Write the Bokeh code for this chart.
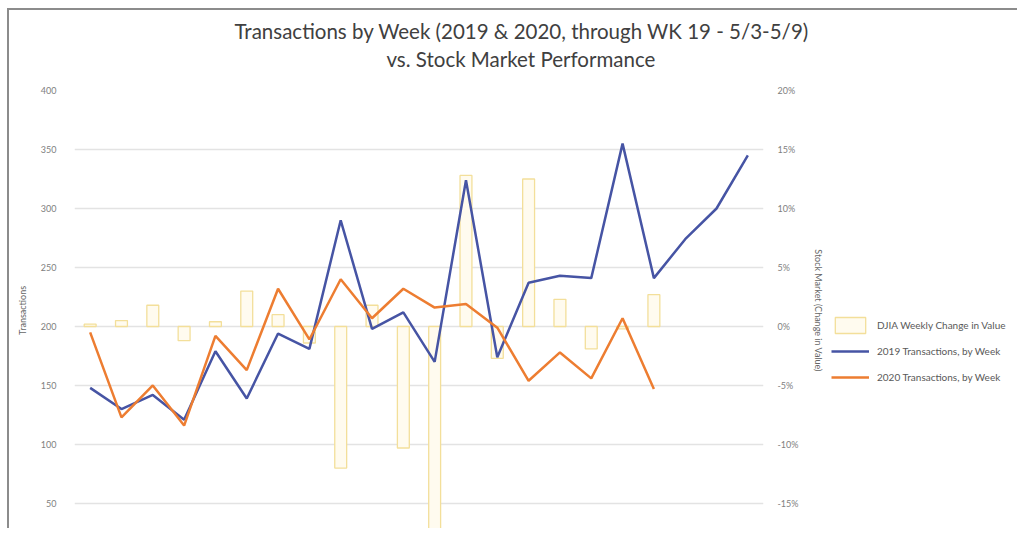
from bokeh.plotting import figure
from bokeh.layouts import row
from bokeh.models import (Range1d, LinearAxis, FixedTicker, PrintfTickFormatter,
                          Legend, LegendItem, Title)
from bokeh.embed import file_html
from bokeh.resources import INLINE

# ---- data ----
weeks_2019 = [1, 2, 3, 4, 5, 6, 7, 8, 9, 10, 11, 12, 13, 14, 15, 16, 17, 18, 19, 20, 21, 22]
tx_2019 = [148, 130, 142, 121, 179, 139, 194, 181, 290, 198, 212, 170, 324, 174,
           237, 243, 241, 355, 241, 274, 300, 345]
weeks_2020 = [1, 2, 3, 4, 5, 6, 7, 8, 9, 10, 11, 12, 13, 14, 15, 16, 17, 18, 19]
tx_2020 = [195, 123, 150, 116, 192, 163, 232, 189, 240, 207, 232, 216, 219, 199,
           154, 178, 156, 207, 147]
djia_pct = [0.2, 0.5, 1.8, -1.2, 0.4, 3.0, 1.0, -1.4, -12.0, 1.8, -10.3, -17.2,
            12.8, -2.7, 12.5, 2.3, -1.9, -0.2, 2.7]

left_ticks = [50, 100, 150, 200, 250, 300, 350, 400]
right_ticks = [-15, -10, -5, 0, 5, 10, 15, 20]

FONT = "Lato"
GREY = "#808080"
BAR_FILL, BAR_LINE = "#fffbef", "#f3df9a"
C2019, C2020 = "#4654a4", "#ED7D31"

p = figure(width=822, height=520, output_backend="svg", toolbar_location=None,
           x_range=Range1d(0.5, 22.5), y_range=Range1d(27.1, 400),
           min_border_left=65, min_border_right=68, min_border_top=80,
           min_border_bottom=0,
           styles={"border-left": "2px solid #8c8c8c", "border-top": "2px solid #8c8c8c",
                   "margin-left": "7px", "margin-top": "8px"})
p.title.text = ""
p.title.visible = False
p.outline_line_color = None
p.background_fill_color = "white"
p.border_fill_color = "white"

p.extra_y_ranges = {"pct": Range1d(-17.29, 20)}

p.xaxis.visible = False
p.xgrid.visible = False
p.ygrid.grid_line_color = "#e3e3e3"
p.ygrid.grid_line_width = 1.5
p.ygrid.ticker = FixedTicker(ticks=left_ticks)

ya = p.yaxis[0]
ya.ticker = FixedTicker(ticks=left_ticks)
ya.axis_line_color = None
ya.major_tick_line_color = None
ya.minor_tick_line_color = None
ya.major_tick_out = 0
ya.major_label_standoff = 18
ya.major_label_text_color = GREY
ya.major_label_text_font = FONT
ya.major_label_text_font_size = "9px"
ya.axis_label = "Transactions"
ya.axis_label_text_font = FONT
ya.axis_label_text_font_size = "9px"
ya.axis_label_text_font_style = "normal"
ya.axis_label_text_color = "#666666"
ya.axis_label_standoff = 10

ra = LinearAxis(y_range_name="pct", ticker=FixedTicker(ticks=right_ticks),
                formatter=PrintfTickFormatter(format="%d%%"))
ra.axis_line_color = None
ra.major_tick_line_color = None
ra.minor_tick_line_color = None
ra.major_tick_out = 0
ra.major_label_standoff = 14
ra.major_label_text_color = GREY
ra.major_label_text_font = FONT
ra.major_label_text_font_size = "9px"
ra.axis_label = "Stock Market (Change in Value)"
ra.axis_label_text_font = FONT
ra.axis_label_text_font_size = "9px"
ra.axis_label_text_font_style = "normal"
ra.axis_label_text_color = "#666666"
ra.axis_label_standoff = 12
p.add_layout(ra, "right")

p.vbar(x=weeks_2020, top=djia_pct, bottom=0, width=0.38, y_range_name="pct",
       fill_color=BAR_FILL, line_color=BAR_LINE, line_width=1.3)
p.line(weeks_2019, tx_2019, line_color=C2019, line_width=2.5)
p.line(weeks_2020, tx_2020, line_color=C2020, line_width=2.5)

t2 = Title(text="vs. Stock Market Performance", align="left", offset=312,
           text_font=FONT, text_font_size="20.5px", text_font_style="normal",
           text_color="#404040", standoff=39)
t1 = Title(text="Transactions by Week (2019 & 2020, through WK 19 - 5/3-5/9)",
           align="left", offset=160, text_font=FONT, text_font_size="20.5px",
           text_font_style="normal", text_color="#404040", standoff=-34)
p.add_layout(t2, "above")
p.add_layout(t1, "above")

# ---- legend panel (swatches only) ----
q = figure(width=188, height=520, output_backend="svg", toolbar_location=None,
           x_range=Range1d(0, 1), y_range=Range1d(0, 1), min_border=0,
           styles={"border-top": "2px solid #8c8c8c", "margin-top": "8px"})
q.title.visible = False
q.axis.visible = False
q.grid.visible = False
q.outline_line_color = None
# stand-in glyphs placed outside the visible range: they only supply legend swatches
sw_bar = q.vbar(x=[-5], top=[-5], bottom=[-6], width=0.1, fill_color=BAR_FILL,
                line_color=BAR_LINE, line_width=1.3)
sw_19 = q.line(x=[-5, -4], y=[-5, -5], line_color=C2019, line_width=2.5)
sw_20 = q.line(x=[-5, -4], y=[-5, -5], line_color=C2020, line_width=2.5)

legend = Legend(items=[
    LegendItem(label="DJIA Weekly Change in Value", renderers=[sw_bar]),
    LegendItem(label="2019 Transactions, by Week", renderers=[sw_19]),
    LegendItem(label="2020 Transactions, by Week", renderers=[sw_20]),
], location=(2, 143))
legend.border_line_color = None
legend.background_fill_alpha = 0
legend.label_text_font = FONT
legend.label_text_font_size = "10px"
legend.label_text_color = "#595959"
legend.glyph_width = 38
legend.label_standoff = 8
legend.spacing = 6
legend.padding = 2
legend.margin = 0
q.add_layout(legend)

layout = row(p, q)
open("out.html", "w").write(file_html(layout, INLINE))
